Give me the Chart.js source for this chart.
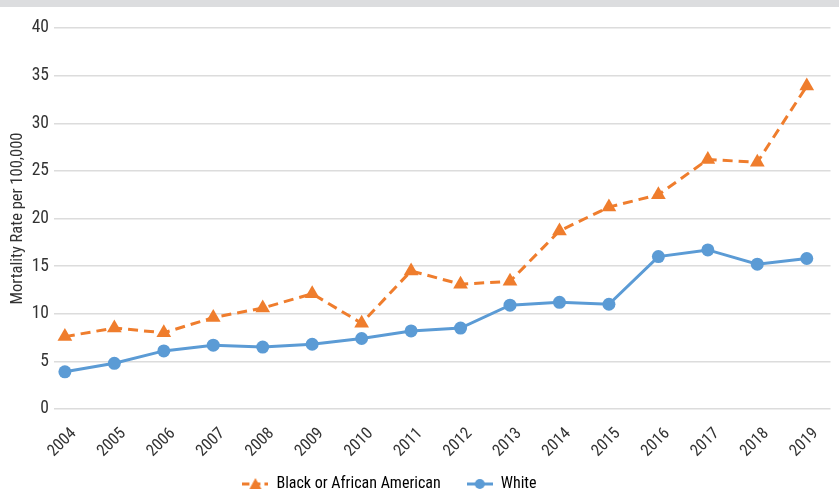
<!DOCTYPE html>
<html>
<head>
<meta charset="utf-8">
<script src="https://cdn.jsdelivr.net/npm/chart.js@4/dist/chart.umd.min.js"></script>
<style>
  body { margin: 0; background: #fff; }
  #topbar { position: absolute; left: 0; top: 0; width: 839px; height: 7px; background: #dcdddf; z-index: 2; }
  #wrap { position: relative; width: 839px; height: 494px; }
</style>
</head>
<body>
<div id="topbar"></div>
<div id="wrap"><canvas id="mortalityChart"></canvas></div>
<script>
const years = ['2004','2005','2006','2007','2008','2009','2010','2011','2012','2013','2014','2015','2016','2017','2018','2019'];
const blackRates = [7.6, 8.5, 8.0, 9.6, 10.6, 12.1, 9.0, 14.5, 13.1, 13.4, 18.7, 21.2, 22.5, 26.2, 25.9, 33.9];
const whiteRates = [3.9, 4.8, 6.1, 6.7, 6.5, 6.8, 7.4, 8.2, 8.5, 10.9, 11.2, 11.0, 16.0, 16.7, 15.2, 15.8];
const yTicks = [0, 5, 10, 15, 20, 25, 30, 35, 40];

const orange = '#ef7d2d';
const blue = '#5b9bd5';
const font = "'Liberation Sans Narrow', 'Roboto Condensed', Roboto";

// legend icon: line with the marker on it
function legendIcon(color, dashed, shape) {
  let c = document.createElement('canvas');
  c.width = 26; c.height = 16;
  let ctx = c.getContext('2d');
  ctx.strokeStyle = color;
  ctx.fillStyle = color;
  ctx.lineWidth = 3;
  if (dashed) ctx.setLineDash([7, 4]);
  ctx.beginPath();
  ctx.moveTo(0, 8); ctx.lineTo(26, 8);
  ctx.stroke();
  ctx.beginPath();
  if (shape === 'triangle') {
    ctx.moveTo(13, 2); ctx.lineTo(19, 13); ctx.lineTo(7, 13);
  } else {
    ctx.arc(13, 8, 5, 0, Math.PI * 2);
  }
  ctx.fill();
  return c;
}

// nudge the legend to where the original sits
const legendShift = {
  id: 'legendShift',
  afterLayout(chart) {
    let lg = chart.legend;
    lg.left -= 34; lg.right -= 34;
    lg.top -= 12;
    lg.bottom = chart.height;
  }
};

const dataMortality = {
  datasets: [{
    label: 'Black or African American',
    data: blackRates.map((v, i) => ({x: i, y: v})),
    borderColor: orange,
    backgroundColor: orange,
    borderWidth: 3,
    borderDash: [10, 6],
    pointStyle: 'triangle',
    pointRadius: 8.5,
    pointHoverRadius: 8.5,
    pointBorderWidth: 0
  }, {
    label: 'White',
    data: whiteRates.map((v, i) => ({x: i, y: v})),
    borderColor: blue,
    backgroundColor: blue,
    borderWidth: 3,
    pointStyle: 'circle',
    pointRadius: 6.5,
    pointHoverRadius: 6.5,
    pointBorderWidth: 0
  }]
};

const icons = [legendIcon(orange, true, 'triangle'), legendIcon(blue, false, 'circle')];

const configMortality = {
  type: 'line',
  data: dataMortality,
  options: {
    responsive: true,
    maintainAspectRatio: false,
    animation: false,
    layout: { padding: { top: 28, right: 0, bottom: 0, left: 8 } },
    scales: {
      x: {
        type: 'linear',
        min: -0.22,
        max: 15.48,
        grid: { display: false },
        border: { display: false },
        afterFit: scale => { scale.height = 53; },
        ticks: {
          stepSize: 1,
          includeBounds: false,
          autoSkip: false,
          minRotation: 45,
          maxRotation: 45,
          padding: 7,
          labelOffset: 9,
          color: '#333',
          font: { family: font, size: 16.5 },
          callback: value => years[value] || ''
        }
      },
      y: {
        min: 0,
        max: 40,
        afterFit: scale => { scale.width = 46; },
        afterBuildTicks: scale => { scale.ticks = yTicks.map(v => ({value: v})); },
        grid: { color: '#dcdcdc', lineWidth: 1.5, drawTicks: false },
        border: { display: false },
        ticks: {
          padding: 5,
          color: '#333',
          font: { family: font, size: 17.5 }
        },
        title: {
          display: true,
          text: 'Mortality Rate per 100,000',
          color: '#333',
          padding: { top: 0, bottom: 4 },
          font: { family: font, size: 16.5 }
        }
      }
    },
    plugins: {
      tooltip: { enabled: false },
      legend: {
        position: 'bottom',
        maxHeight: 32,
        labels: {
          usePointStyle: true,
          pointStyleWidth: 26,
          padding: 26,
          color: '#333',
          font: { family: font, size: 16 },
          generateLabels: chart => chart.data.datasets.map((ds, i) => ({
            text: ds.label,
            pointStyle: icons[i],
            fillStyle: ds.backgroundColor,
            strokeStyle: ds.borderColor,
            lineWidth: 0,
            hidden: false,
            datasetIndex: i
          }))
        }
      }
    }
  },
  plugins: [legendShift]
};

var mortalityChart = new Chart(
  document.getElementById('mortalityChart'),
  configMortality,
);
</script>
</body>
</html>
